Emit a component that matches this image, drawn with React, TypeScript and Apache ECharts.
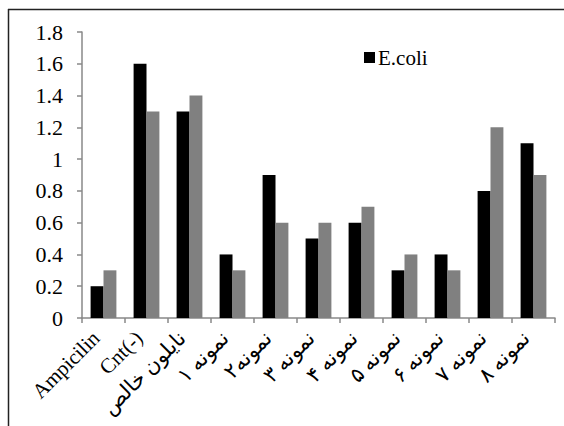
import React, { useEffect, useRef } from "react";
import * as echarts from "echarts";

const categories = [
  "Ampicilin",
  "Cnt(-)",
  "نایلون خالص",
  "نمونه ۱",
  "نمونه۲",
  "نمونه ۳",
  "نمونه ۴",
  "نمونه ۵",
  "نمونه ۶",
  "نمونه ۷",
  "نمونه ۸",
];
const ecoliValues = [0.2, 1.6, 1.3, 0.4, 0.9, 0.5, 0.6, 0.3, 0.4, 0.8, 1.1];
const secondValues = [0.3, 1.3, 1.4, 0.3, 0.6, 0.6, 0.7, 0.4, 0.3, 1.2, 0.9];
const legendItems = ["E.coli"];

const FONT = "'Liberation Serif', 'Times New Roman', 'DejaVu Sans', serif";

export default function App() {
  const ref = useRef<HTMLDivElement>(null);
  useEffect(() => {
    if (!ref.current) return;
    const chart = echarts.init(ref.current, undefined, { renderer: "svg" });
    chart.setOption({
      animation: false,
      backgroundColor: "#fff",
      textStyle: { fontFamily: FONT },
      graphic: [
        {
          type: "line",
          shape: { x1: 8, y1: 9.5, x2: 564, y2: 9.5 },
          style: { stroke: "#222", lineWidth: 1.5 },
        },
        {
          type: "line",
          shape: { x1: 8.5, y1: 9, x2: 8.5, y2: 426 },
          style: { stroke: "#222", lineWidth: 1.5 },
        },
      ],
      legend: {
        data: legendItems,
        left: 359,
        top: 42,
        itemWidth: 11,
        itemHeight: 11,
        itemGap: 4,
        icon: "rect",
        textStyle: { fontFamily: FONT, fontSize: 21, color: "#000", padding: [0, 0, 0, -2] },
      },
      grid: { left: 82, right: 9, top: 32, bottom: 108 },
      xAxis: {
        type: "category",
        data: categories,
        axisLine: { lineStyle: { color: "#888", width: 1.5 } },
        axisTick: { show: true, length: 5, lineStyle: { color: "#888", width: 1.5 } },
        axisLabel: {
          interval: 0,
          rotate: 45,
          margin: 24,
          verticalAlign: "bottom",
          fontSize: 21,
          color: "#000",
          fontFamily: FONT,
        },
      },
      yAxis: {
        type: "value",
        min: 0,
        max: 1.8,
        interval: 0.2,
        axisLine: { show: true, lineStyle: { color: "#888", width: 1.5 } },
        axisTick: { show: true, length: 5, lineStyle: { color: "#888", width: 1.5 } },
        splitLine: { show: false },
        axisLabel: {
          fontSize: 22,
          color: "#000",
          fontFamily: FONT,
          margin: 19,
        },
      },
      series: [
        {
          name: "E.coli",
          type: "bar",
          data: ecoliValues,
          barGap: "0%",
          barCategoryGap: "40%",
          itemStyle: { color: "#000" },
        },
        {
          name: "Series 2",
          type: "bar",
          data: secondValues,
          barGap: "0%",
          barCategoryGap: "40%",
          itemStyle: { color: "#808080" },
        },
      ],
    });
    return () => chart.dispose();
  }, []);
  return (
    <div
      ref={ref}
      style={{ position: "fixed", left: 0, top: 0, width: 564, height: 426 }}
    />
  );
}
